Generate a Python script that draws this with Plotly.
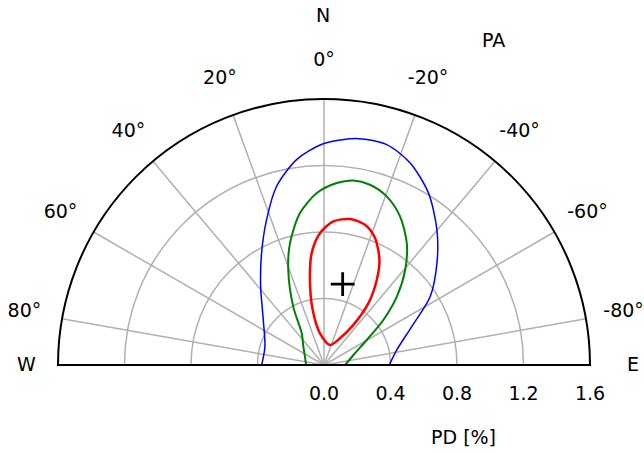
import plotly.graph_objects as go

# ---- data (PA in degrees, PD in %) ----
blue_pa = [90, 72.8, 53.4, 38.9, 29.2, 21.6, 14.9, 7.6, 0.2, -8.6, -15.9, -23.1,
           -31.3, -39.9, -48.0, -57.2, -66.4, -78.3, -90]
blue_pd = [0.375, 0.372, 0.455, 0.607, 0.770, 0.939, 1.111, 1.246, 1.331, 1.377, 1.378,
           1.321, 1.210, 1.059, 0.914, 0.760, 0.576, 0.447, 0.393]

green_pa = [90, 66.4, 48.5, 35.1, 27.8, 20.6, 15.6, 9.0, 2.4, -4.0, -9.0, -14.3, -20.4,
            -27.1, -34.2, -40.5, -46.8, -52.8, -59.7, -71.2, -90]
green_pd = [0.108, 0.125, 0.166, 0.233, 0.397, 0.611, 0.761, 0.925, 1.035, 1.097, 1.124,
            1.119, 1.082, 1.004, 0.886, 0.752, 0.601, 0.448, 0.298, 0.187, 0.127]

red_pa = [-16.7, 7.2, 11.6, 9.4, 6.3, 1.7, -3.7, -10.1, -16.3, -21.9, -27.8, -31.8,
          -35.7, -36.2, -30.9, -16.7]
red_pd = [0.126, 0.192, 0.338, 0.519, 0.677, 0.794, 0.865, 0.892, 0.879, 0.823, 0.715,
          0.602, 0.458, 0.299, 0.187, 0.126]

best_pa = [-13.0]
best_pd = [0.499]

angle_ticks = [80, 60, 40, 20, 0, -20, -40, -60, -80]
angle_labels = ["80°", "60°", "40°", "20°", "0°", "-20°", "-40°", "-60°", "-80°"]
radial_ticks = [0.0, 0.4, 0.8, 1.2, 1.6]
radial_labels = ["0.0", "0.4", "0.8", "1.2", "1.6"]
r_max = 1.6
label_r = 1.83  # radius at which the angle labels are centred

FONT = "DejaVu Sans"
FS = 19
W, H = 644, 453

# pixel geometry of the half disc: centre (324, 365), radius 266 px
CX, CY, RPX = 324, 365, 266
RLAB = RPX * label_r / r_max


def dom(r):
    return dict(x=[(CX - r) / W, (CX + r) / W], y=[(H - CY) / H, (H - CY + r) / H])


fig = go.Figure()

# left half of the base line (frame)
fig.add_trace(go.Scatterpolar(r=[0, r_max], theta=[90, 90], mode="lines",
                              line=dict(color="black", width=2), hoverinfo="skip",
                              showlegend=False))

fig.add_trace(go.Scatterpolar(r=blue_pd, theta=blue_pa, mode="lines",
                              line=dict(color="blue", width=1.5, shape="spline", smoothing=0.8),
                              showlegend=False))
fig.add_trace(go.Scatterpolar(r=green_pd, theta=green_pa, mode="lines",
                              line=dict(color="green", width=2, shape="spline", smoothing=0.8),
                              showlegend=False))
fig.add_trace(go.Scatterpolar(r=red_pd, theta=red_pa, mode="lines",
                              line=dict(color="red", width=2.5, shape="spline", smoothing=0.8),
                              showlegend=False))
fig.add_trace(go.Scatterpolar(r=best_pd, theta=best_pa, mode="markers",
                              marker=dict(symbol="cross-thin", size=17,
                                          line=dict(color="black", width=2.8)),
                              showlegend=False))

# angle labels, centred at a fixed radius outside the rim (overlay polar subplot)
fig.add_trace(go.Scatterpolar(r=[label_r] * len(angle_ticks), theta=angle_ticks,
                              mode="text", text=angle_labels, textposition="middle center",
                              textfont=dict(family=FONT, size=FS, color="black"),
                              cliponaxis=False, hoverinfo="skip", showlegend=False,
                              subplot="polar2"))

fig.update_layout(
    width=W, height=H,
    margin=dict(l=0, r=0, t=0, b=0),
    paper_bgcolor="white",
    font=dict(family=FONT, size=FS, color="black"),
    polar=dict(
        domain=dom(RPX),
        sector=[0, 180],
        bgcolor="white",
        angularaxis=dict(
            rotation=90, direction="counterclockwise",
            tickmode="array", tickvals=angle_ticks, ticktext=angle_labels,
            showticklabels=False, ticks="",
            showgrid=True, gridcolor="#b0b0b0", gridwidth=1.5,
            showline=True, linecolor="black", linewidth=2,
        ),
        radialaxis=dict(
            range=[0, r_max], angle=0, side="clockwise",
            tickmode="array", tickvals=radial_ticks, ticktext=radial_labels,
            showgrid=True, gridcolor="#b0b0b0", gridwidth=1.5,
            showline=True, linecolor="black", linewidth=2,
            ticks="outside", ticklen=11, tickcolor="rgba(0,0,0,0)",
            tickfont=dict(family=FONT, size=FS, color="black"),
        ),
    ),
    polar2=dict(
        domain=dom(RLAB),
        sector=[0, 180],
        bgcolor="rgba(0,0,0,0)",
        angularaxis=dict(rotation=90, direction="counterclockwise",
                         showline=False, showgrid=False, showticklabels=False, ticks=""),
        radialaxis=dict(range=[0, label_r], visible=False),
    ),
)

# annotation positions in pixels -> paper units
ann = [
    ("N", 323, 15),
    ("PA", 494, 40),
    ("W", 26, 364),
    ("E", 633, 364),
    ("PD [%]", 463, 437),
]
for txt, px, py in ann:
    fig.add_annotation(text=txt, x=px / W, y=1 - py / H,
                       xref="paper", yref="paper",
                       showarrow=False, xanchor="center", yanchor="middle", borderpad=0,
                       font=dict(family=FONT, size=FS, color="black"))

fig.write_html(
    "out.html",
    config={"displayModeBar": False, "staticPlot": True},
    post_script="document.body.style.margin='0';"
                "document.documentElement.style.overflow='hidden';",
)
